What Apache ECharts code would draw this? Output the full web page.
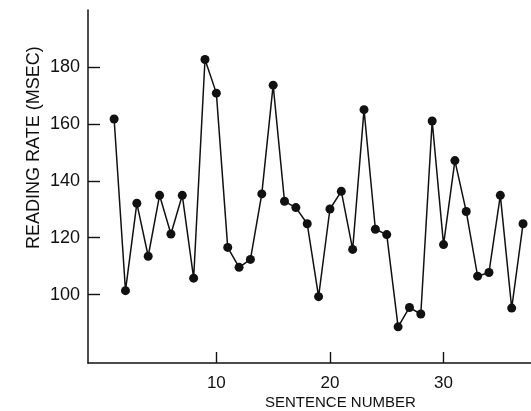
<!DOCTYPE html>
<html>
<head>
<meta charset="utf-8">
<script src="https://cdn.jsdelivr.net/npm/echarts@6/dist/echarts.min.js"></script>
<style>
html,body{margin:0;padding:0;background:#fff;}
#chart{width:531px;height:411px;}
</style>
</head>
<body>
<div id="chart"></div>
<script>
const sentences = [1,2,3,4,5,6,7,8,9,10,11,12,13,14,15,16,17,18,19,20,21,22,23,24,25,26,27,28,29,30,31,32,33,34,35,36,37];
const readingRate = [161.7,101.4,132.1,113.5,134.9,121.3,134.9,105.8,182.6,170.8,116.6,109.6,112.4,135.4,173.6,132.8,130.6,124.9,99.3,130.1,136.3,115.9,165.0,123.0,121.1,88.7,95.5,93.2,161.0,117.6,147.1,129.2,106.5,107.8,134.9,95.3,124.9];
const xTicks = [10,20,30];
const yTicks = [100,120,140,160,180];

const chart = echarts.init(document.getElementById('chart'), null, {renderer:'canvas'});
const font = 'Liberation Sans';
chart.setOption({
  animation:false,
  backgroundColor:'#fff',
  grid:{left:88, right:0, top:10, bottom:48, containLabel:false, outerBoundsMode:'none'},
  xAxis:{
    type:'value', min:-1.3, max:37.7,
    axisLine:{show:true, onZero:false, lineStyle:{color:'#111', width:1.5}},
    axisTick:{show:true, inside:true, length:11, customValues:xTicks, lineStyle:{color:'#111', width:1.4}},
    axisLabel:{customValues:xTicks, color:'#111', fontSize:17, fontFamily:font, margin:12},
    splitLine:{show:false}
  },
  yAxis:{
    type:'value', min:76, max:200,
    axisLine:{show:true, onZero:false, lineStyle:{color:'#111', width:1.5}},
    axisTick:{show:true, inside:true, length:12, customValues:yTicks, lineStyle:{color:'#111', width:1.4}},
    axisLabel:{customValues:yTicks, color:'#111', fontSize:18, fontFamily:font, margin:8},
    splitLine:{show:false}
  },
  graphic:[
    {type:'text', left:265, top:395, style:{text:'SENTENCE NUMBER', fill:'#111', font:'15px "Liberation Sans"'}},
    {type:'text', x:25, y:249, rotation:Math.PI/2, style:{text:'READING RATE (MSEC)', fill:'#111', font:'18px "Liberation Sans"', textAlign:'left', textVerticalAlign:'top'}}
  ],
  series:[{
    type:'line',
    data:sentences.map((s,i)=>[s, readingRate[i]]),
    symbol:'circle', symbolSize:9,
    itemStyle:{color:'#111'},
    lineStyle:{color:'#111', width:1.5}
  }]
});
</script>
</body>
</html>
